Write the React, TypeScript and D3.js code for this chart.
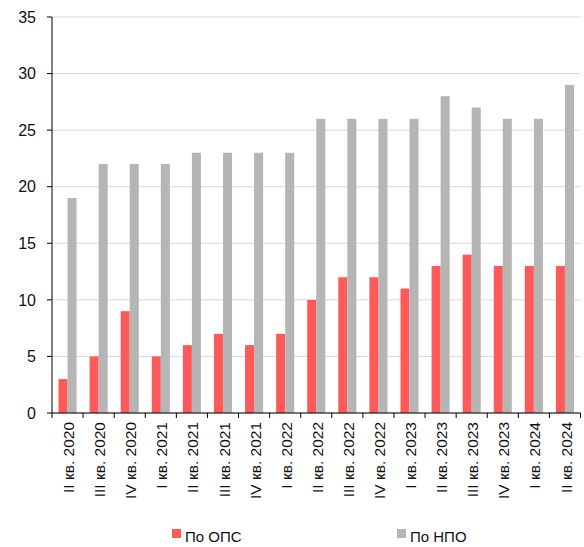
import React from "react";
import * as d3 from "d3";

// Quarters shown along the x axis
const quarters = [
  "II кв. 2020", "III кв. 2020", "IV кв. 2020",
  "I кв. 2021", "II кв. 2021", "III кв. 2021", "IV кв. 2021",
  "I кв. 2022", "II кв. 2022", "III кв. 2022", "IV кв. 2022",
  "I кв. 2023", "II кв. 2023", "III кв. 2023", "IV кв. 2023",
  "I кв. 2024", "II кв. 2024",
];

// Values per quarter for each series
const opsValues = [3, 5, 9, 5, 6, 7, 6, 7, 10, 12, 12, 11, 13, 14, 13, 13, 13];
const npoValues = [19, 22, 22, 22, 23, 23, 23, 23, 26, 26, 26, 26, 28, 27, 26, 26, 29];

const seriesKeys = ["ops", "npo"];
const seriesNames = ["По ОПС", "По НПО"];
const seriesColors = ["#FF5A5A", "#B5B5B5"];

const yTicks = [0, 5, 10, 15, 20, 25, 30, 35];

const W = 584;
const H = 547;
const left = 52;
const right = 580.5;
const top = 17;
const bottom = 413;
const FONT = "'Liberation Sans', Arial, sans-serif";

export default function App() {
  const x = d3.scaleBand<string>().domain(quarters).range([left, right]).padding(0);
  const inner = d3
    .scaleBand<string>()
    .domain(seriesKeys)
    .range([0, x.bandwidth()])
    .paddingInner(0)
    .paddingOuter(0.72);
  const y = d3.scaleLinear().domain([0, 35]).range([bottom, top]);

  const series = [opsValues, npoValues];

  return (
    <svg
      width={W}
      height={H}
      style={{ position: "absolute", left: 0, top: 0, background: "#fff" }}
      fontFamily={FONT}
    >
      {/* horizontal grid */}
      {yTicks.map((t) => (
        <line
          key={"g" + t}
          x1={left}
          x2={right}
          y1={y(t)}
          y2={y(t)}
          stroke="#D9D9D9"
          strokeWidth={1}
        />
      ))}

      {/* bars */}
      {series.map((vals, si) =>
        vals.map((v, i) => (
          <rect
            key={seriesKeys[si] + i}
            x={(x(quarters[i]) as number) + (inner(seriesKeys[si]) as number)}
            y={y(v)}
            width={inner.bandwidth()}
            height={bottom - y(v)}
            fill={seriesColors[si]}
          />
        ))
      )}

      {/* y axis */}
      <line x1={left} x2={left} y1={top} y2={bottom} stroke="#000" strokeWidth={1} />
      {yTicks.map((t) => (
        <g key={"yt" + t}>
          <line x1={left - 5} x2={left} y1={y(t)} y2={y(t)} stroke="#000" strokeWidth={1} />
          <text
            x={36}
            y={y(t)}
            dy="0.36em"
            textAnchor="end"
            fontSize={16}
            fill="#111"
          >
            {t}
          </text>
        </g>
      ))}

      {/* x axis */}
      <line x1={left} x2={right} y1={bottom} y2={bottom} stroke="#000" strokeWidth={1} />
      {quarters.map((q) => (
        <line
          key={"xt" + q}
          x1={x(q) as number}
          x2={x(q) as number}
          y1={bottom}
          y2={bottom + 5}
          stroke="#000"
          strokeWidth={1}
        />
      ))}
      <line x1={right} x2={right} y1={bottom} y2={bottom + 5} stroke="#000" strokeWidth={1} />
      {quarters.map((q) => {
        const cx = (x(q) as number) + x.bandwidth() / 2 + 1;
        return (
          <text
            key={"xl" + q}
            transform={`translate(${cx},${bottom + 9}) rotate(-90)`}
            dy="0.36em"
            textAnchor="end"
            fontSize={15.5}
            fill="#111"
          >
            {q}
          </text>
        );
      })}

      {/* legend */}
      {seriesNames.map((name, i) => {
        const lx = i === 0 ? 172 : 397;
        return (
          <g key={"lg" + i}>
            <rect x={lx} y={529} width={9} height={9} fill={seriesColors[i]} />
            <text x={lx + 13} y={542} fontSize={15} fill="#111">
              {name}
            </text>
          </g>
        );
      })}
    </svg>
  );
}
